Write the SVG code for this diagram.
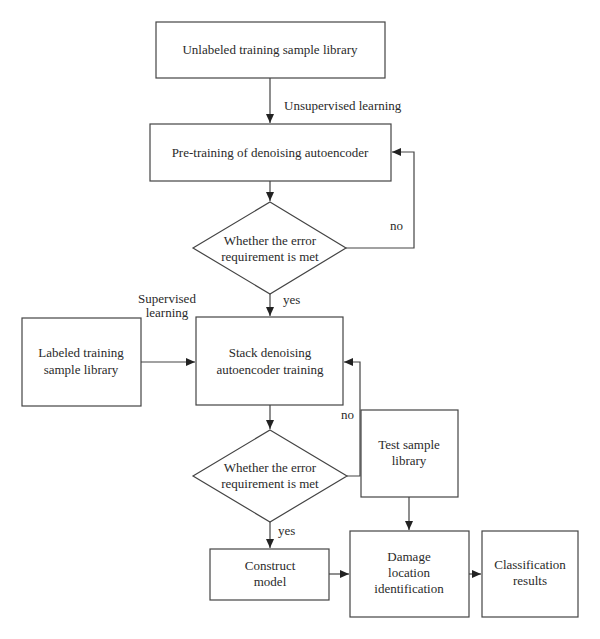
<svg xmlns="http://www.w3.org/2000/svg" width="600" height="639" viewBox="0 0 600 639">
<style>
.n{fill:#fff;stroke:#444;stroke-width:1.2}
.t{font-family:"Liberation Serif","Times New Roman",serif;font-size:13px;fill:#2a2a2a;text-anchor:middle}
.l{font-family:"Liberation Serif","Times New Roman",serif;font-size:13px;fill:#2a2a2a}
.c{fill:none;stroke:#444;stroke-width:1.2}
</style>
<defs>
<marker id="a" markerWidth="10" markerHeight="10" refX="9" refY="5" orient="auto" markerUnits="userSpaceOnUse">
<path d="M0,1 L9,5 L0,9 Z" fill="#222"/>
</marker>
</defs>
<rect width="600" height="639" fill="#fff"/>
<g id="connectors">
<path class="c" d="M270,78 V123" marker-end="url(#a)"/>
<path class="c" d="M270,181 V201" marker-end="url(#a)"/>
<path class="c" d="M346,248 H414 V152 H392" marker-end="url(#a)"/>
<path class="c" d="M270,294 V316" marker-end="url(#a)"/>
<path class="c" d="M141,362 H195" marker-end="url(#a)"/>
<path class="c" d="M270,405 V429" marker-end="url(#a)"/>
<path class="c" d="M347,476 H360 V362 H344" marker-end="url(#a)"/>
<path class="c" d="M270,522 V548" marker-end="url(#a)"/>
<path class="c" d="M329,574 H349" marker-end="url(#a)"/>
<path class="c" d="M409,497 V530" marker-end="url(#a)"/>
<path class="c" d="M469,574 H481" marker-end="url(#a)"/>
<text class="l" x="284" y="110">Unsupervised learning</text>
<text class="l" x="390" y="230">no</text>
<text class="l" x="283" y="304">yes</text>
<text class="t" x="167" y="303">Supervised</text>
<text class="t" x="167" y="317">learning</text>
<text class="l" x="341" y="419">no</text>
<text class="l" x="278" y="535">yes</text>
</g>
<g id="unlabeled">
<rect class="n" x="156" y="22" width="229" height="56"/>
<text class="t" x="270" y="54">Unlabeled training sample library</text>
</g>
<g id="pretraining">
<rect class="n" x="150" y="124" width="241" height="57"/>
<text class="t" x="270" y="157">Pre-training of denoising autoencoder</text>
</g>
<g id="decision1">
<polygon class="n" points="270,202 346,248 270,294 193,248"/>
<text class="t" x="270" y="245">Whether the error</text>
<text class="t" x="270" y="261">requirement is met</text>
</g>
<g id="labeled">
<rect class="n" x="22" y="318" width="119" height="88"/>
<text class="t" x="81" y="357">Labeled training</text>
<text class="t" x="81" y="374">sample library</text>
</g>
<g id="stack">
<rect class="n" x="196" y="317" width="147" height="88"/>
<text class="t" x="270" y="357">Stack denoising</text>
<text class="t" x="270" y="374">autoencoder training</text>
</g>
<g id="decision2">
<polygon class="n" points="270,430 347,476 270,522 193,476"/>
<text class="t" x="270" y="472">Whether the error</text>
<text class="t" x="270" y="488">requirement is met</text>
</g>
<g id="test">
<rect class="n" x="361" y="410" width="97" height="87"/>
<text class="t" x="409" y="449">Test sample</text>
<text class="t" x="409" y="465">library</text>
</g>
<g id="construct">
<rect class="n" x="210" y="549" width="119" height="51"/>
<text class="t" x="270" y="570">Construct</text>
<text class="t" x="270" y="586">model</text>
</g>
<g id="damage">
<rect class="n" x="350" y="531" width="119" height="86"/>
<text class="t" x="409" y="561">Damage</text>
<text class="t" x="409" y="577">location</text>
<text class="t" x="409" y="593">identification</text>
</g>
<g id="classification">
<rect class="n" x="482" y="531" width="96" height="86"/>
<text class="t" x="530" y="569">Classification</text>
<text class="t" x="530" y="585">results</text>
</g>
</svg>
